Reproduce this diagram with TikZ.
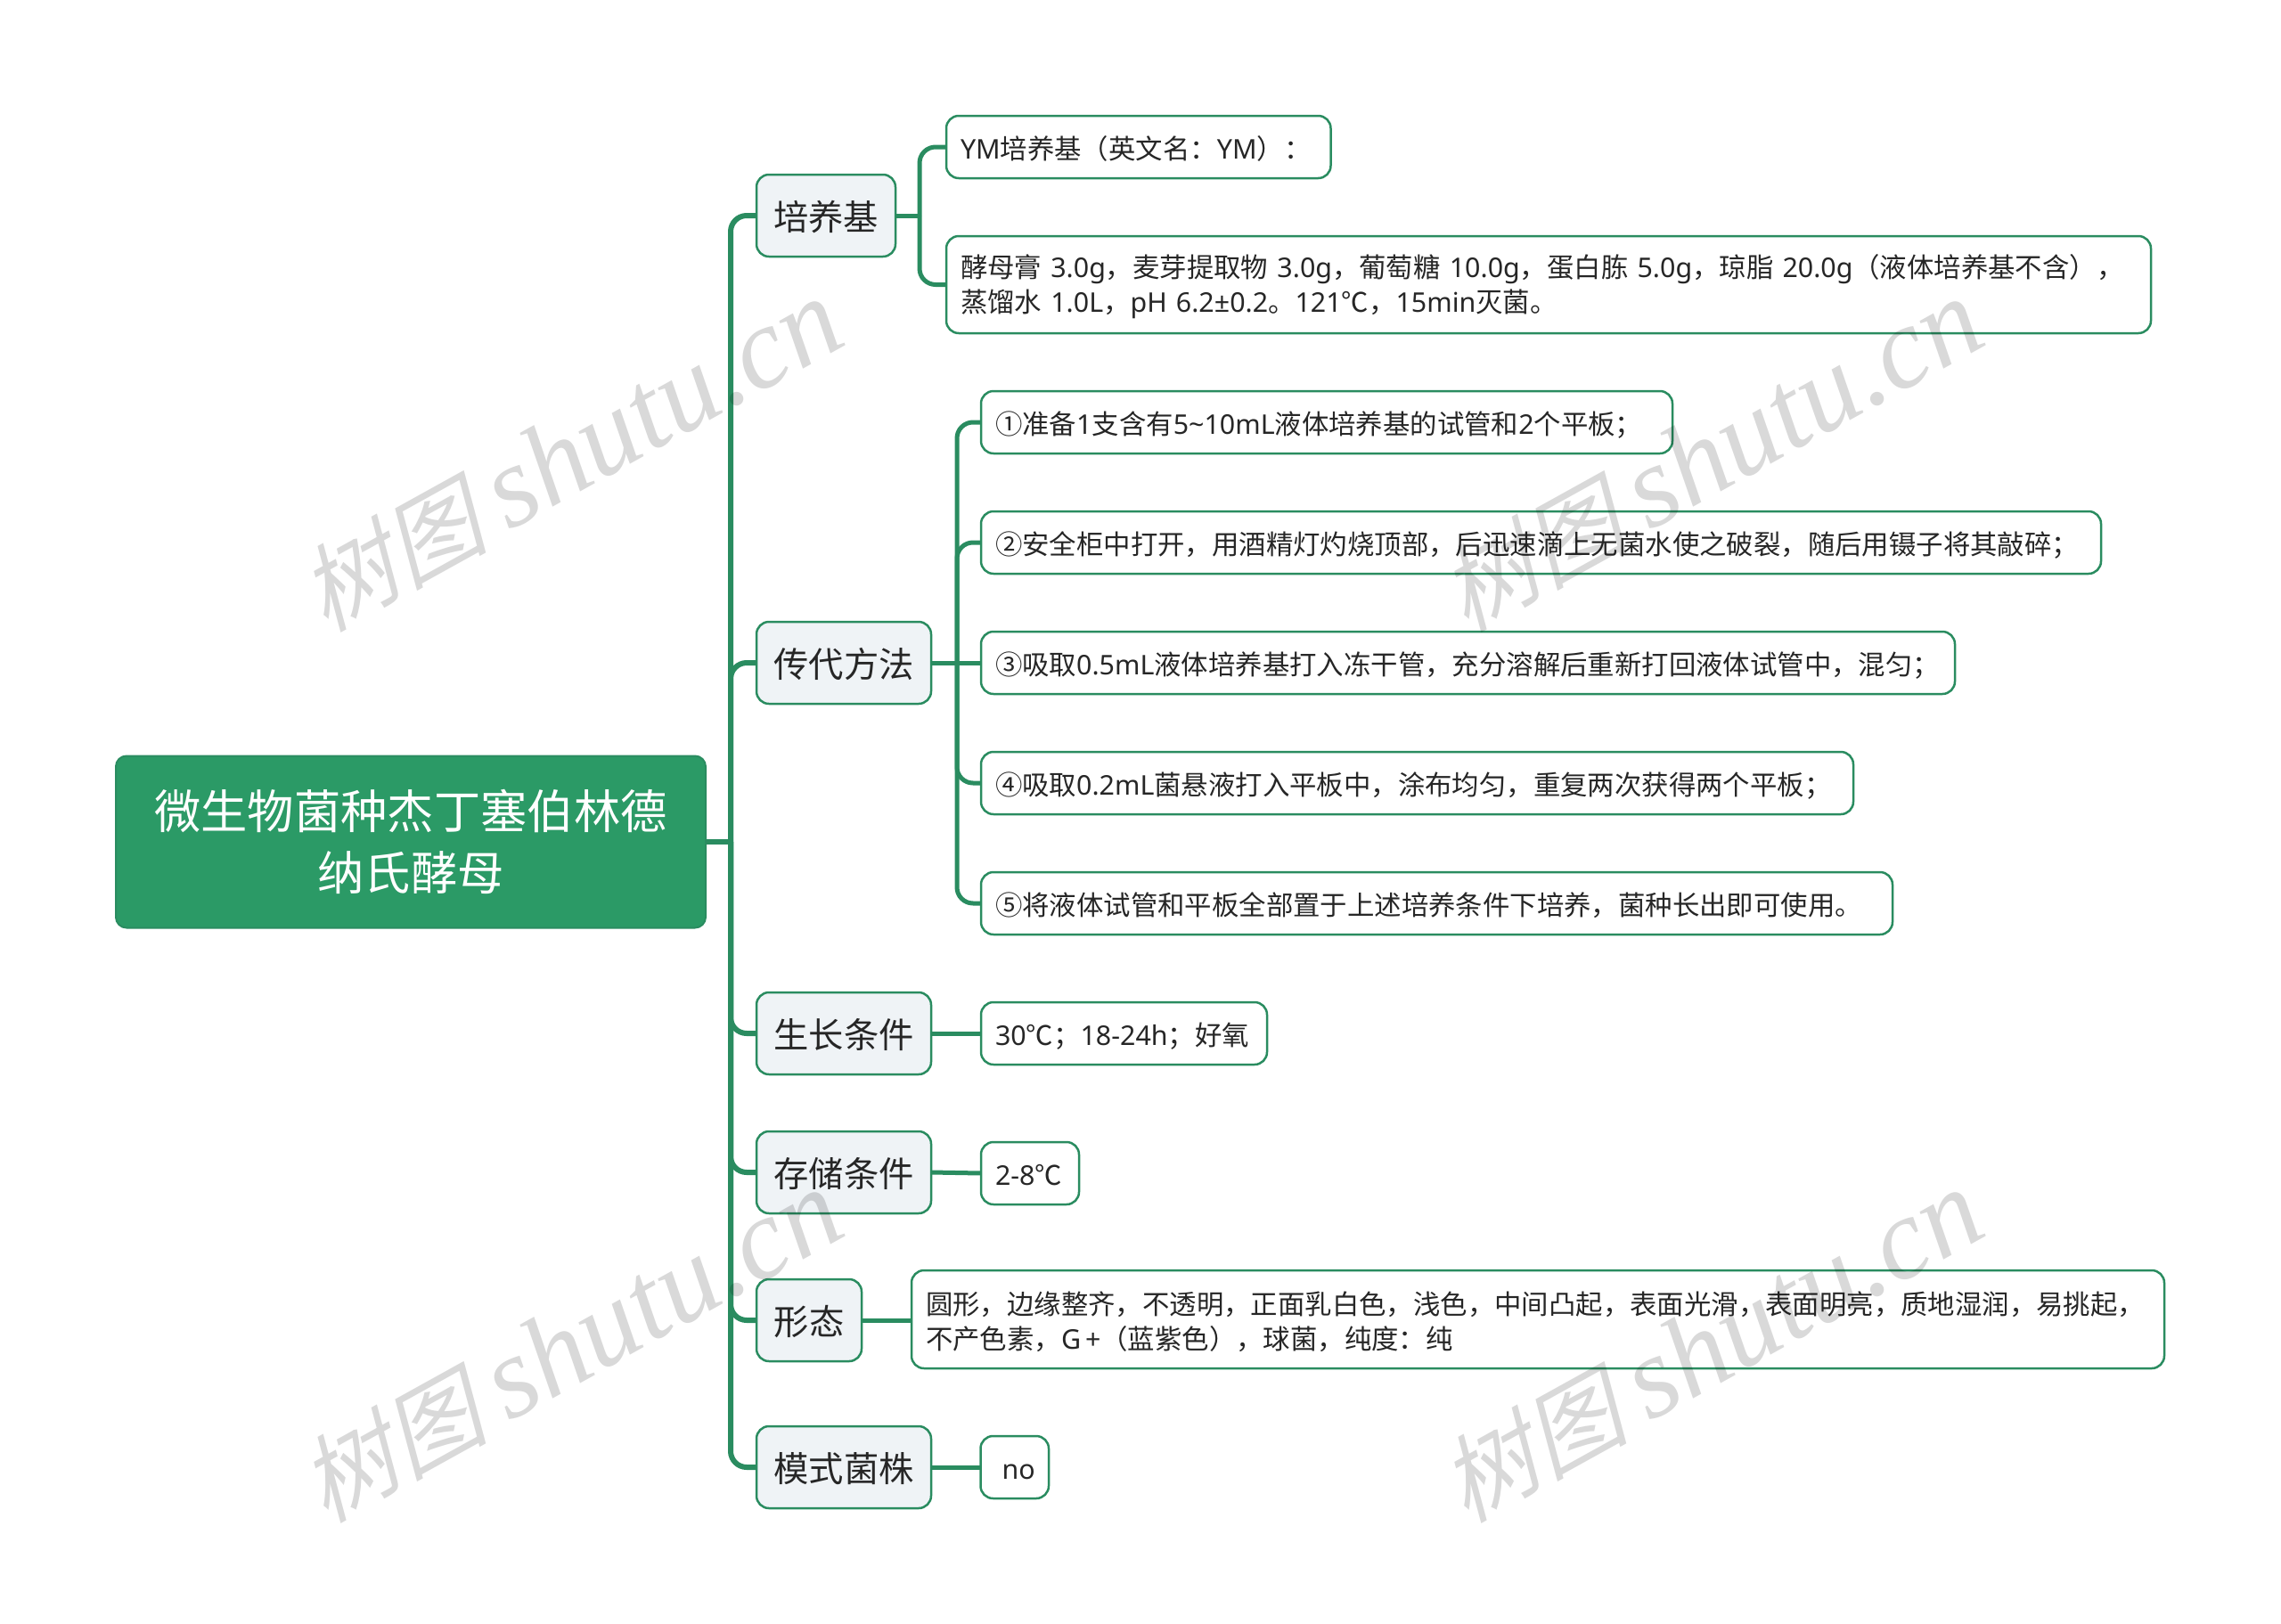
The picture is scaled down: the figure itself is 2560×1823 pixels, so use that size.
\documentclass[tikz,border=0pt]{standalone}
\usepackage{fontspec}
\usepackage{xcolor}
\setmainfont{Noto Sans CJK SC}
\newfontfamily\latinpart{Noto Sans}
\newfontfamily\markcjk{Noto Sans CJK SC}[FakeSlant=0.25]
\newfontfamily\marklatin{Liberation Serif}[ItalicFont=* Italic]
\definecolor{treegreen}{HTML}{2B9A66}
\definecolor{linegreen}{HTML}{2A8C60}
\definecolor{pale}{HTML}{EFF3F6}
\definecolor{ink}{HTML}{262626}
\tikzset{
  rootbox/.style={draw=linegreen,fill=treegreen,text=white,rounded corners=12pt,line width=2pt,outer sep=0pt,
    minimum width=662pt,minimum height=193pt,align=center,font=\fontsize{52.3}{68.6}\selectfont},
  topicbox/.style={draw=linegreen,fill=pale,text=ink,rounded corners=14pt,line width=2.5pt,outer sep=0pt,
    anchor=west,minimum height=92pt,align=center,font=\fontsize{39.3}{48}\selectfont,
    execute at begin node={\rule[-8pt]{0pt}{48pt}}},
  leafbox/.style={draw=linegreen,fill=white,text=ink,rounded corners=14pt,line width=2.5pt,outer sep=0pt,
    anchor=west,minimum height=70pt,align=left,inner xsep=16pt,inner ysep=0pt,font=\fontsize{30.4}{39}\selectfont,
    execute at begin node={\rule[-5pt]{0pt}{36pt}}},
  trunk/.style={draw=linegreen,line width=6pt,rounded corners=18pt},
  twig/.style={draw=linegreen,line width=5pt,rounded corners=18pt},
  watermark/.style={rotate=29,text=black,text opacity=0.15,inner sep=0pt},
}
\newcommand{\la}[1]{{\latinpart #1}}
\newcommand{\markword}{{\fontsize{106}{106}\selectfont\markcjk 树图 \marklatin\itshape\fontsize{130}{130}\selectfont shutu.cn}}

\begin{document}
\begin{tikzpicture}[x=1pt,y=-1pt]
  \useasboundingbox (0,0) rectangle (2560,1823);

  \node (root) at (461,945) [rootbox] {微生物菌种杰丁塞伯林德\\纳氏酵母};
  \coordinate (trunkroot) at (820,945);

  \node (medium) at (849,242) [topicbox,minimum width=156pt] {培养基};
  \node (passage) at (849,744) [topicbox,minimum width=196pt] {传代方法};
  \node (growth) at (849,1160) [topicbox,minimum width=196pt] {生长条件};
  \node (storage) at (849,1316) [topicbox,minimum width=196pt] {存储条件};
  \node (shape) at (849,1482) [topicbox,minimum width=118pt] {形态};
  \node (strain) at (849,1647) [topicbox,minimum width=196pt] {模式菌株};

  \node (mediumA) at (1062,165) [leafbox,text width=399.5pt] {\la{YM}培养基（英文名：\la{YM}）：};
  \node (mediumB) at (1062,319.5) [leafbox,minimum height=109pt,text width=1320pt] {酵母膏\la{ 3.0g}，麦芽提取物\la{ 3.0g}，葡萄糖\la{ 10.0g}，蛋白胨\la{ 5.0g}，琼脂\la{ 20.0g}（液体培养基不含），\\蒸馏水\la{ 1.0L}，\la{pH 6.2±0.2}。\la{121}℃，\la{15min}灭菌。};

  \node (stepA) at (1101,474) [leafbox,text width=744pt] {①准备\la{1}支含有\la{5\textasciitilde10mL}液体培养基的试管和\la{2}个平板；};
  \node (stepB) at (1101,609) [leafbox,text width=1225pt] {②安全柜中打开，用酒精灯灼烧顶部，后迅速滴上无菌水使之破裂，随后用镊子将其敲碎；};
  \node (stepC) at (1101,744) [leafbox,text width=1061pt] {③吸取\la{0.5mL}液体培养基打入冻干管，充分溶解后重新打回液体试管中，混匀；};
  \node (stepD) at (1101,879) [leafbox,text width=947pt] {④吸取\la{0.2mL}菌悬液打入平板中，涂布均匀，重复两次获得两个平板；};
  \node (stepE) at (1101,1014) [leafbox,text width=991pt] {⑤将液体试管和平板全部置于上述培养条件下培养，菌种长出即可使用。};

  \node (growthA) at (1101,1160) [leafbox,text width=289pt] {\la{30}℃；\la{18-24h}；好氧};
  \node (storageA) at (1101,1317) [leafbox,text width=78pt] {\la{2-8}℃};
  \node (shapeA) at (1023,1481) [leafbox,minimum height=110pt,text width=1374pt] {圆形，边缘整齐，不透明，正面乳白色，浅色，中间凸起，表面光滑，表面明亮，质地湿润，易挑起，\\不产色素，\la{G\,+}（蓝紫色），球菌，纯度：纯};
  \node (strainA) at (1100.5,1647) [leafbox,text width=44.5pt] {\hspace*{8pt}\la{no}};

  \draw[trunk] (root.east) -- (trunkroot);
  \draw[trunk] (trunkroot) |- (medium.west);
  \draw[trunk] (trunkroot) |- (passage.west);
  \draw[trunk] (trunkroot) |- (growth.west);
  \draw[trunk] (trunkroot) |- (storage.west);
  \draw[trunk] (trunkroot) |- (shape.west);
  \draw[trunk] (trunkroot) |- (strain.west);

  \coordinate (mediumfork) at (1032,242);
  \draw[twig] (medium.east) -- (mediumfork);
  \draw[twig] (mediumfork) |- (mediumA.west);
  \draw[twig] (mediumfork) |- (mediumB.west);

  \coordinate (passagefork) at (1074,744);
  \draw[twig] (passage.east) -- (stepC.west);
  \draw[twig] (passagefork) |- (stepA.west);
  \draw[twig] (passagefork) |- (stepB.west);
  \draw[twig] (passagefork) |- (stepD.west);
  \draw[twig] (passagefork) |- (stepE.west);

  \draw[twig] (growth.east) -- (growthA.west);
  \draw[twig] (storage.east) -- (storageA.west);
  \draw[twig] (shape.east) -- (shape.east -| shapeA.west);
  \draw[twig] (strain.east) -- (strainA.west);

  \node (markA) at (640,512) [watermark] {\markword};
  \node (markB) at (1920,512) [watermark] {\markword};
  \node (markC) at (640,1512) [watermark] {\markword};
  \node (markD) at (1920,1512) [watermark] {\markword};
\end{tikzpicture}
\end{document}
